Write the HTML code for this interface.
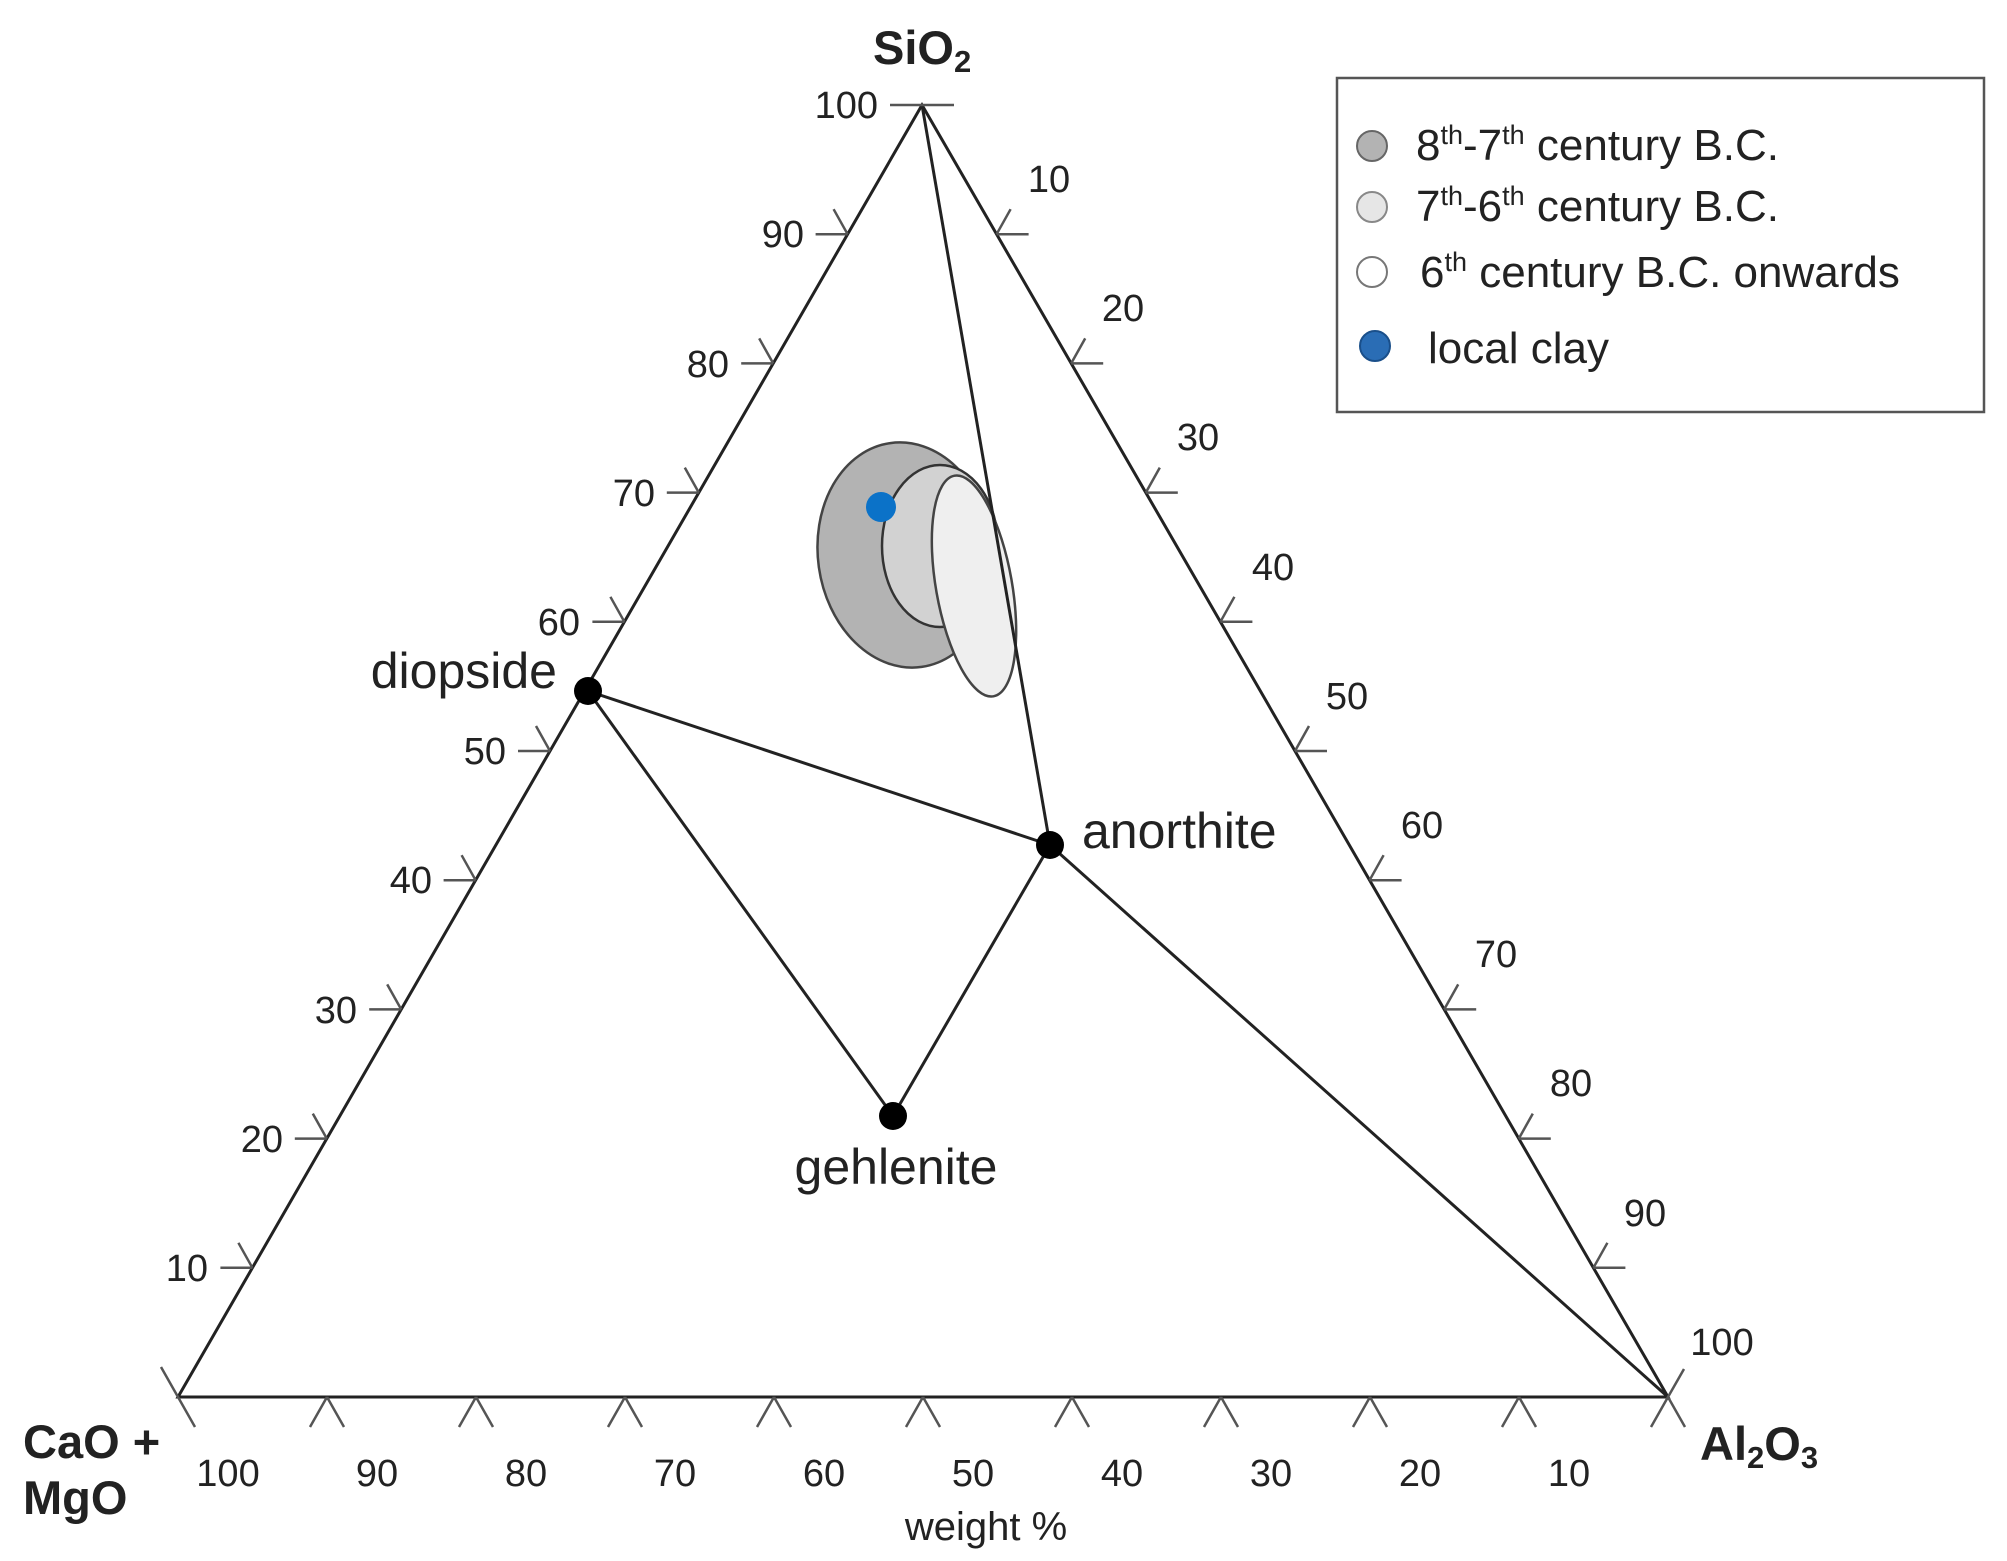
<!DOCTYPE html>
<html><head><meta charset="utf-8"><style>
html,body{margin:0;padding:0;background:#fff;}
svg{display:block;font-family:"Liberation Sans",Arial,sans-serif;}
</style></head><body>
<svg width="2007" height="1561" viewBox="0 0 2007 1561" xmlns="http://www.w3.org/2000/svg">
<ellipse cx="906" cy="555" rx="88" ry="113" fill="#b3b3b3" stroke="#444" stroke-width="2.5" transform="rotate(-8 906 555)"/>
<ellipse cx="940" cy="546" rx="58" ry="81" fill="#d2d2d2" stroke="#333" stroke-width="2.5"/>
<ellipse cx="974" cy="586" rx="38" ry="112" fill="#efefef" stroke="#444" stroke-width="2.5" transform="rotate(-10 974 586)"/>
<g stroke="#222" stroke-width="3" fill="none">
<polygon points="922,105 178,1397 1668,1397"/>
<line x1="922" y1="105" x2="1050" y2="845"/>
<line x1="588" y1="691" x2="1050" y2="845"/>
<line x1="588" y1="691" x2="893" y2="1116"/>
<line x1="893" y1="1116" x2="1050" y2="845"/>
<line x1="1050" y1="845" x2="1668" y2="1397"/>
</g>
<g stroke="#555" stroke-width="2.5" fill="none">
<path d="M252.4,1267.8h-32 M252.4,1267.8l-14,-25
M326.8,1138.6h-32 M326.8,1138.6l-14,-25
M401.2,1009.4h-32 M401.2,1009.4l-14,-25
M475.6,880.2h-32 M475.6,880.2l-14,-25
M550,751h-32 M550,751l-14,-25
M624.4,621.8h-32 M624.4,621.8l-14,-25
M698.8,492.6h-32 M698.8,492.6l-14,-25
M773.2,363.4h-32 M773.2,363.4l-14,-25
M847.6,234.2h-32 M847.6,234.2l-14,-25
M922,105h-32 M922,105h32
M178,1397l-17,-30
M996.6,234.2h32 M996.6,234.2l14,-25
M1071.2,363.4h32 M1071.2,363.4l14,-25
M1145.8,492.6h32 M1145.8,492.6l14,-25
M1220.4,621.8h32 M1220.4,621.8l14,-25
M1295,751h32 M1295,751l14,-25
M1369.6,880.2h32 M1369.6,880.2l14,-25
M1444.2,1009.4h32 M1444.2,1009.4l14,-25
M1518.8,1138.6h32 M1518.8,1138.6l14,-25
M1593.4,1267.8h32 M1593.4,1267.8l14,-25
M1668,1397l16,-28
M178,1397l17,30 M327,1397l-17,30 M327,1397l17,30
M476,1397l-17,30 M476,1397l17,30
M625,1397l-17,30 M625,1397l17,30
M774,1397l-17,30 M774,1397l17,30
M923,1397l-17,30 M923,1397l17,30
M1072,1397l-17,30 M1072,1397l17,30
M1221,1397l-17,30 M1221,1397l17,30
M1370,1397l-17,30 M1370,1397l17,30
M1519,1397l-17,30 M1519,1397l17,30
M1668,1397l-17,30 M1668,1397l17,30"/>
</g>
<g font-size="38" fill="#222" text-anchor="end">
<text x="208" y="1281">10</text><text x="283" y="1152">20</text><text x="357" y="1023">30</text>
<text x="432" y="893">40</text><text x="506" y="764">50</text><text x="580" y="635">60</text>
<text x="655" y="506">70</text><text x="729" y="377">80</text><text x="804" y="247">90</text>
<text x="878" y="118">100</text>
</g>
<g font-size="38" fill="#222" text-anchor="middle">
<text x="1049" y="192">10</text><text x="1123" y="321">20</text><text x="1198" y="450">30</text>
<text x="1273" y="580">40</text><text x="1347" y="709">50</text><text x="1422" y="838">60</text>
<text x="1496" y="967">70</text><text x="1571" y="1096">80</text><text x="1645" y="1226">90</text>
<text x="1722" y="1355">100</text>
<text x="228" y="1486">100</text><text x="377" y="1486">90</text><text x="526" y="1486">80</text>
<text x="675" y="1486">70</text><text x="824" y="1486">60</text><text x="973" y="1486">50</text>
<text x="1122" y="1486">40</text><text x="1271" y="1486">30</text><text x="1420" y="1486">20</text>
<text x="1569" y="1486">10</text>
<text x="986" y="1540" font-size="40">weight %</text>
</g>
<g font-weight="bold" font-size="47" fill="#222">
<text x="873" y="64">SiO<tspan font-size="31" dy="8">2</tspan></text>
<text x="23" y="1458">CaO +</text>
<text x="23" y="1514">MgO</text>
<text x="1700" y="1460">Al<tspan font-size="31" dy="8">2</tspan><tspan dy="-8">O</tspan><tspan font-size="31" dy="8">3</tspan></text>
</g>
<g fill="#000">
<circle cx="588" cy="691" r="14"/><circle cx="1050" cy="845" r="14"/><circle cx="893" cy="1116" r="14"/>
</g>
<circle cx="881" cy="507" r="15" fill="#0b72c8"/>
<g font-size="50" fill="#222">
<text x="557" y="688" text-anchor="end">diopside</text>
<text x="1082" y="848">anorthite</text>
<text x="896" y="1184" text-anchor="middle">gehlenite</text>
</g>
<rect x="1337" y="78" width="647" height="334" fill="#fff" stroke="#555" stroke-width="2.5"/>
<circle cx="1372" cy="146" r="15" fill="#b3b3b3" stroke="#666" stroke-width="2"/>
<circle cx="1372" cy="207" r="15" fill="#e6e6e6" stroke="#888" stroke-width="2"/>
<circle cx="1372" cy="272" r="15" fill="#fff" stroke="#777" stroke-width="2"/>
<circle cx="1375" cy="346" r="15" fill="#2a6db5" stroke="#1a4f8a" stroke-width="2"/>
<g font-size="44" fill="#222">
<text x="1416" y="160">8<tspan font-size="27" dy="-16">th</tspan><tspan dy="16">-7</tspan><tspan font-size="27" dy="-16">th</tspan><tspan dy="16"> century B.C.</tspan></text>
<text x="1416" y="221">7<tspan font-size="27" dy="-16">th</tspan><tspan dy="16">-6</tspan><tspan font-size="27" dy="-16">th</tspan><tspan dy="16"> century B.C.</tspan></text>
<text x="1420" y="287">6<tspan font-size="27" dy="-16">th</tspan><tspan dy="16"> century B.C. onwards</tspan></text>
<text x="1428" y="363">local clay</text>
</g>
</svg>
</body></html>
